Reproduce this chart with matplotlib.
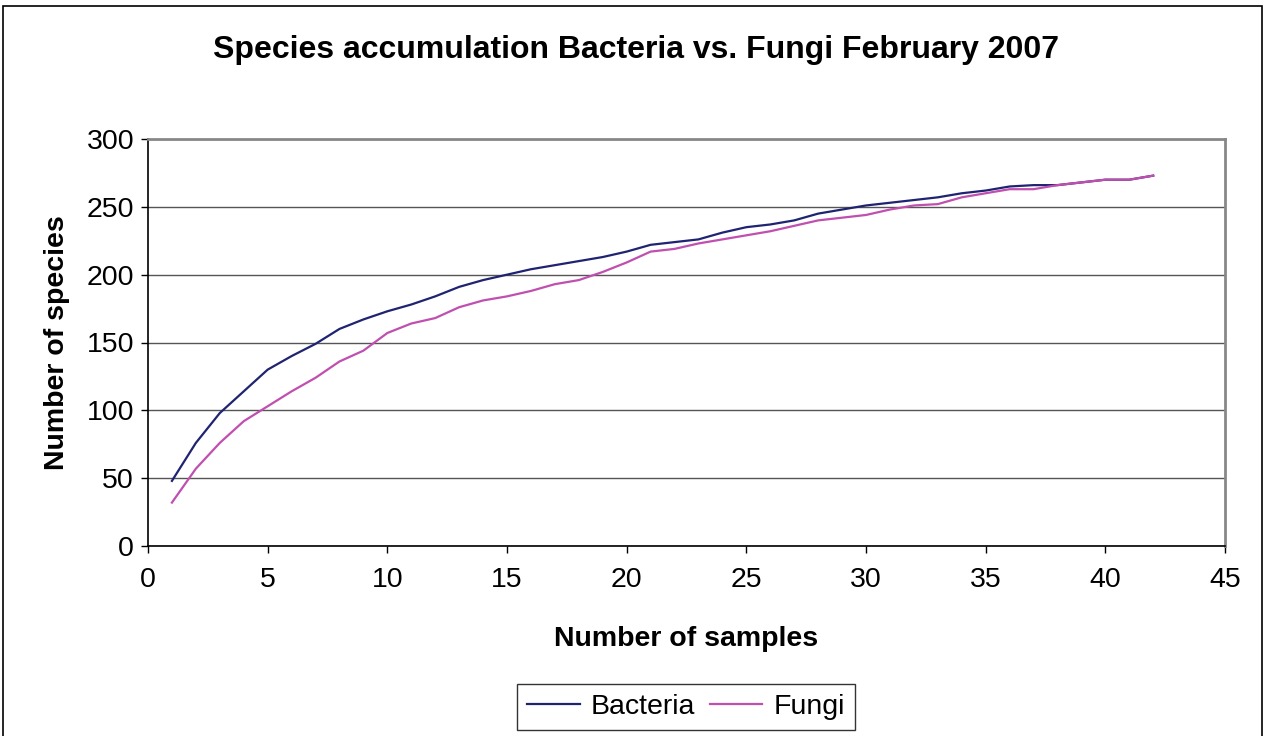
import matplotlib
matplotlib.use("Agg")
import matplotlib.pyplot as plt
from matplotlib.patches import Rectangle

plt.rcParams['font.family'] = ['Liberation Sans', 'DejaVu Sans']

samples = list(range(1, 43))
bacteria = [48, 76, 98, 114, 130, 140, 149, 160, 167, 173,
            178, 184, 191, 196, 200, 204, 207, 210, 213, 217,
            222, 224, 226, 231, 235, 237, 240, 245, 248, 251,
            253, 255, 257, 260, 262, 265, 266, 266, 268, 270,
            270, 273]
fungi = [32, 57, 76, 92, 103, 114, 124, 136, 144, 157,
         164, 168, 176, 181, 184, 188, 193, 196, 202, 209,
         217, 219, 223, 226, 229, 232, 236, 240, 242, 244,
         248, 251, 252, 257, 260, 263, 263, 266, 268, 270,
         270, 273]

x_ticks = [0, 5, 10, 15, 20, 25, 30, 35, 40, 45]
y_ticks = [0, 50, 100, 150, 200, 250, 300]

fig = plt.figure(figsize=(12.65, 7.36), dpi=100)

# outer chart frame
fig.patches.append(Rectangle((3 / 1265, -0.05), 1259 / 1265, 1.05 - 6 / 736,
                             transform=fig.transFigure, fill=False,
                             edgecolor='black', linewidth=1.2))

ax = fig.add_axes([148 / 1265, 1 - 546 / 736, (1225 - 148) / 1265, (546 - 139) / 736])

ax.plot(samples, bacteria, color='#1f2372', linewidth=1.6, label='Bacteria')
ax.plot(samples, fungi, color='#c04fb0', linewidth=1.6, label='Fungi')

ax.set_xlim(0, 45)
ax.set_ylim(0, 300)
ax.set_xticks(x_ticks)
ax.set_yticks(y_ticks)
ax.tick_params(axis='both', labelsize=20.5, length=5, width=1, direction='out',
               colors='black')
ax.tick_params(axis='x', pad=10)
ax.tick_params(axis='y', pad=5)
ax.yaxis.grid(True, color='#555555', linewidth=1)
ax.set_axisbelow(True)

for side in ('left', 'bottom'):
    ax.spines[side].set_color('black')
    ax.spines[side].set_linewidth(1.2)
for side in ('top', 'right'):
    ax.spines[side].set_color('#888888')
    ax.spines[side].set_linewidth(2)

ax.set_xlabel('Number of samples', fontsize=20.5, fontweight='bold', labelpad=24)
ax.set_ylabel('Number of species', fontsize=20.5, fontweight='bold', labelpad=12)

fig.text(636 / 1265, 1 - 50 / 736, 'Species accumulation Bacteria vs. Fungi February 2007',
         ha='center', va='center', fontsize=23, fontweight='bold')

leg = fig.legend(loc='center', bbox_to_anchor=(686 / 1265, 1 - 707 / 736), ncol=2,
                 fontsize=20.5, frameon=True, fancybox=False, edgecolor='black',
                 handlelength=1.85, handletextpad=0.4, columnspacing=0.5,
                 borderpad=0.35, borderaxespad=0)
leg.get_frame().set_linewidth(1)

fig.savefig('out.png', dpi=100)
